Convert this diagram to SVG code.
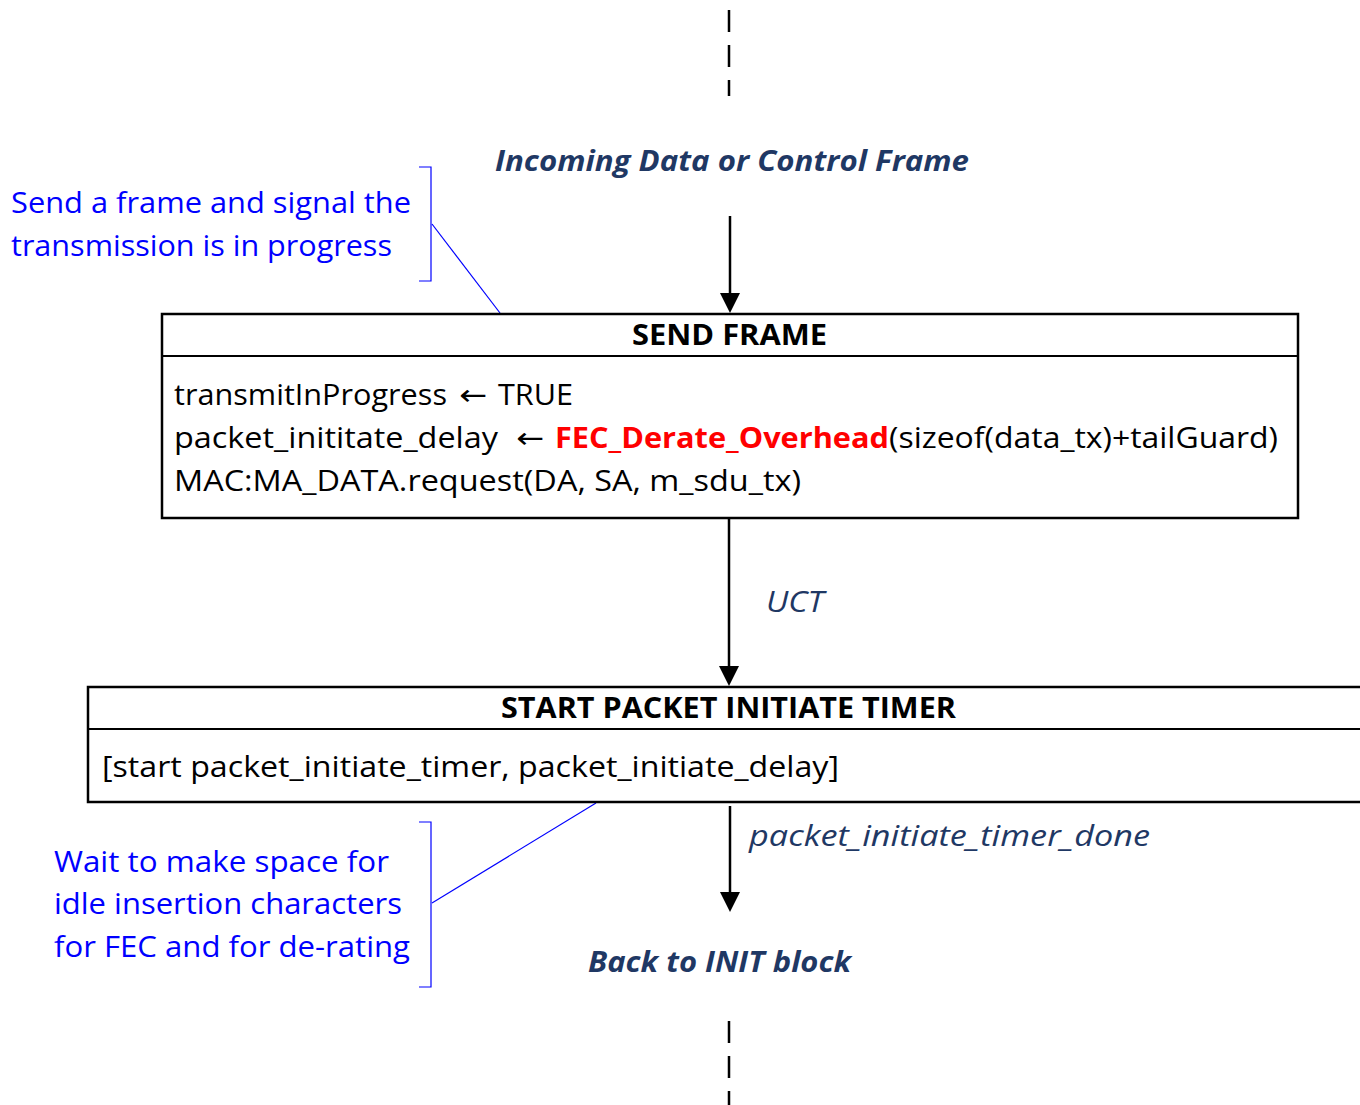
<svg xmlns="http://www.w3.org/2000/svg" width="1360" height="1105" viewBox="0 0 1360 1105">
<defs>
<style>
.t{font-family:"Open Sans","Liberation Sans",sans-serif;font-size:29px;fill:#000}
.ar{font-family:"DejaVu Sans",sans-serif;font-size:29px;fill:#000}
.b{font-weight:bold}
.nav{fill:#1F3864;font-style:italic}
.note{fill:#0000FF}
.red{fill:#FF0000;font-weight:bold}
.box{fill:#fff;stroke:#000;stroke-width:2.5}
.sep{stroke:#000;stroke-width:2}
.con{stroke:#000;stroke-width:2.5;fill:none}
.dash{stroke:#000;stroke-width:2.5;stroke-dasharray:22 13;fill:none}
.lead{stroke:#0000FF;stroke-width:1.2;fill:none}
</style>
<marker id="ah" markerWidth="20" markerHeight="21" refX="12" refY="10" orient="auto" markerUnits="userSpaceOnUse" viewBox="0 0 20 21">
<path d="M0,0 L20,10 L0,20 Z" fill="#000"/>
</marker>
</defs>
<rect width="1360" height="1105" fill="#fff"/>

<g id="connectors">
<line class="dash" x1="729" y1="10" x2="729" y2="96"/>
<line class="con" x1="730" y1="216" x2="730" y2="305" marker-end="url(#ah)"/>
<line class="con" x1="729" y1="519" x2="729" y2="678" marker-end="url(#ah)"/>
<line class="con" x1="730" y1="806" x2="730" y2="904" marker-end="url(#ah)"/>
<line class="dash" x1="729" y1="1021" x2="729" y2="1110"/>
<line class="lead" x1="432" y1="224" x2="500" y2="313"/>
<line class="lead" x1="596" y1="803" x2="432" y2="903"/>
</g>

<g id="incoming">
<text class="t b nav" x="495" y="171" textLength="474" lengthAdjust="spacingAndGlyphs">Incoming Data or Control Frame</text>
</g>

<g id="note1">
<path class="lead" d="M419,167 H431 V281 H419"/>
<text class="t note" x="11" y="213" textLength="400" lengthAdjust="spacingAndGlyphs">Send a frame and signal the</text>
<text class="t note" x="11" y="256" textLength="381" lengthAdjust="spacingAndGlyphs">transmission is in progress</text>
</g>

<g id="send-frame">
<rect class="box" x="162" y="314" width="1136" height="204"/>
<line class="sep" x1="162" y1="356" x2="1298" y2="356"/>
<text class="t b" x="632" y="345" textLength="195" lengthAdjust="spacingAndGlyphs">SEND FRAME</text>
<text class="t" x="174" y="405" textLength="273" lengthAdjust="spacingAndGlyphs">transmitInProgress</text>
<text class="ar" x="459" y="405" textLength="28" lengthAdjust="spacingAndGlyphs">←</text>
<text class="t" x="498" y="405" textLength="75" lengthAdjust="spacingAndGlyphs">TRUE</text>
<text class="t" x="174" y="448" textLength="324" lengthAdjust="spacingAndGlyphs">packet_inititate_delay</text>
<text class="ar" x="516" y="448" textLength="28" lengthAdjust="spacingAndGlyphs">←</text>
<text class="t red" x="555" y="448" textLength="334" lengthAdjust="spacingAndGlyphs">FEC_Derate_Overhead</text>
<text class="t" x="889" y="448" textLength="389" lengthAdjust="spacingAndGlyphs">(sizeof(data_tx)+tailGuard)</text>
<text class="t" x="174" y="491" textLength="627" lengthAdjust="spacingAndGlyphs">MAC:MA_DATA.request(DA, SA, m_sdu_tx)</text>
</g>

<g id="uct-label">
<text class="t nav" x="766" y="612" textLength="58" lengthAdjust="spacingAndGlyphs">UCT</text>
</g>

<g id="start-timer">
<rect class="box" x="88" y="687" width="1290" height="115"/>
<line class="sep" x1="88" y1="729" x2="1378" y2="729"/>
<text class="t b" x="501" y="718" textLength="455" lengthAdjust="spacingAndGlyphs">START PACKET INITIATE TIMER</text>
<text class="t" x="102" y="777" textLength="737" lengthAdjust="spacingAndGlyphs">[start packet_initiate_timer, packet_initiate_delay]</text>
</g>

<g id="note2">
<path class="lead" d="M419,822 H431 V987 H419"/>
<text class="t note" x="54" y="872" textLength="335" lengthAdjust="spacingAndGlyphs">Wait to make space for</text>
<text class="t note" x="54" y="914" textLength="348" lengthAdjust="spacingAndGlyphs">idle insertion characters</text>
<text class="t note" x="54" y="957" textLength="356" lengthAdjust="spacingAndGlyphs">for FEC and for de-rating</text>
</g>

<g id="timer-done-label">
<text class="t nav" x="749" y="846" textLength="401" lengthAdjust="spacingAndGlyphs">packet_initiate_timer_done</text>
</g>

<g id="back-init">
<text class="t b nav" x="588" y="972" textLength="263" lengthAdjust="spacingAndGlyphs">Back to INIT block</text>
</g>
</svg>
